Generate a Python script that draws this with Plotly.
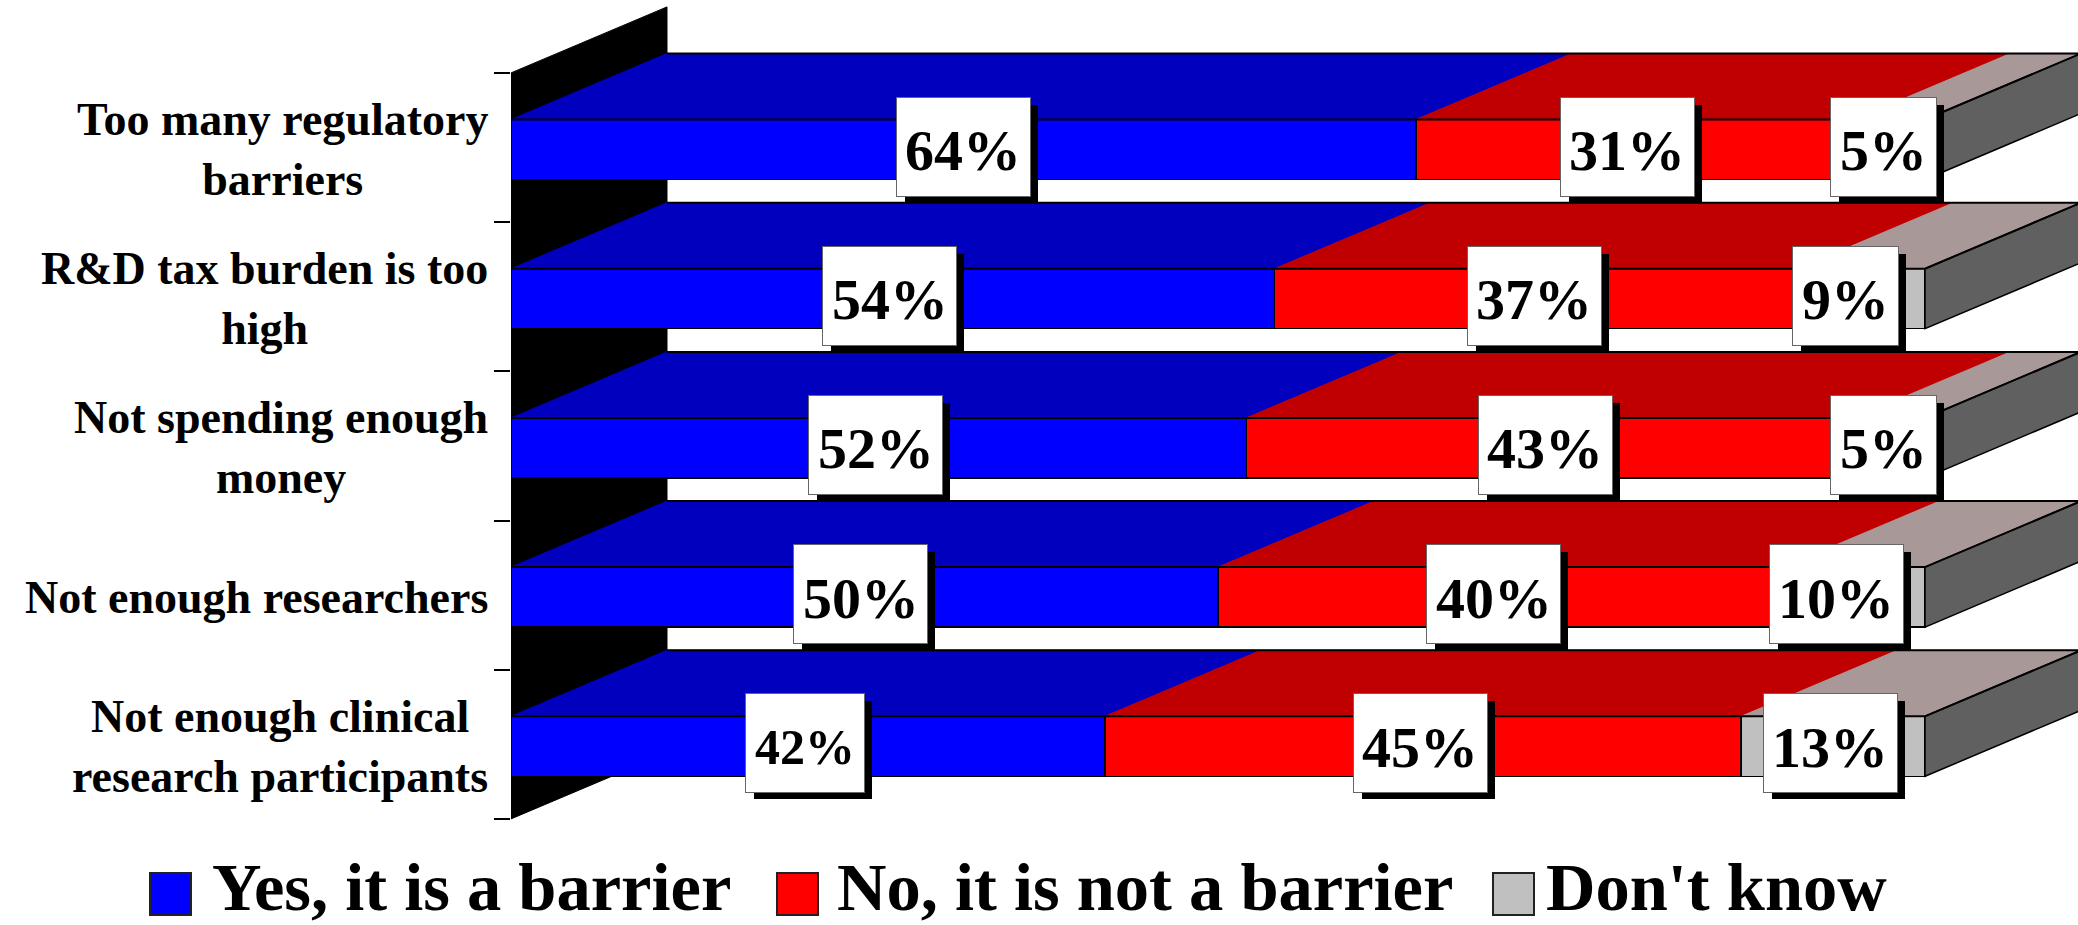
import plotly.graph_objects as go

categories = ["Too many regulatory<br>barriers", "R&D tax burden is too<br>high", "Not spending enough<br>money",
              "Not enough researchers", "Not enough clinical<br>research participants"]
series_names = ["Yes, it is a barrier", "No, it is not a barrier", "Don't know"]
yes_values = [64, 54, 52, 50, 42]
no_values = [31, 37, 43, 40, 45]
dk_values = [5, 9, 5, 10, 13]

# ---- styling / geometry (pixels of the 2078x925 canvas) ----
W, H = 2078, 925
X0_PX, PX_PER_PCT = 511, 14.14
Y0_PX, PX_PER_ROW = 147.5, 149.2
FRONT = ["#0000FF", "#FF0000", "#C0C0C0"]
TOP = ["#0000BE", "#C00000", "#A89898"]
SIDE = "#606060"
DX = 156 / PX_PER_PCT
DY = 66 / PX_PER_ROW
BAR_H = 60 / PX_PER_ROW
BAR_OFF = 2 / PX_PER_ROW
NUDGE = [[0, -8, -6], [-3, -2, -16], [-3, -5, -6], [-4, -7, -18], [-3, -3, -3]]
SERIF = "Liberation Serif"

rows = list(range(len(categories)))
series = [yes_values, no_values, dk_values]
fig = go.Figure()

# front faces
for s, vals in enumerate(series):
    fig.add_trace(go.Bar(y=[r + BAR_OFF for r in rows], x=vals, orientation="h", width=BAR_H, name=series_names[s],
                         marker=dict(color=FRONT[s], line=dict(color="black", width=1.5)), showlegend=False))

# 3-D top and side faces, derived from the data
for r in rows:
    yt = r + BAR_OFF - BAR_H / 2
    yb = r + BAR_OFF + BAR_H / 2
    start = 0
    for s, vals in enumerate(series):
        end = start + vals[r]
        fig.add_trace(go.Scatter(x=[start, end, end + DX, start + DX, start],
                                 y=[yt, yt, yt - DY, yt - DY, yt], mode="lines", fill="toself",
                                 fillcolor=TOP[s], line=dict(color=TOP[s], width=1), showlegend=False, hoverinfo="skip"))
        start = end
    fig.add_trace(go.Scatter(x=[start, start + DX, start + DX, start, start],
                             y=[yt, yt - DY, yb - DY, yb, yt], mode="lines", fill="toself",
                             fillcolor=SIDE, line=dict(color="black", width=1.5), showlegend=False, hoverinfo="skip"))
    # dark outline of the top face: back edge, right diagonal, front edge
    fig.add_trace(go.Scatter(x=[DX, start + DX, start, 0], y=[yt - DY, yt - DY, yt, yt], mode="lines",
                             line=dict(color="black", width=2), showlegend=False, hoverinfo="skip"))

x_max = (W - X0_PX) / PX_PER_PCT
y_top = -Y0_PX / PX_PER_ROW
y_bot = (H - Y0_PX) / PX_PER_ROW
edge_low = rows[-1] + 0.5
edge_high = rows[0] - 0.5

shapes = [dict(type="path", layer="below", xref="x", yref="y", fillcolor="black", line=dict(color="black", width=1),
               path=f"M 0 {edge_high} L {DX} {edge_high - DY} L {DX} {edge_low - DY} L 0 {edge_low} Z")]
annotations = []


def px_x(p):
    return p / W


def px_y(p):
    return 1 - p / H


# category labels
for r in rows:
    annotations.append(dict(x=490 / W, xref="paper", y=r + 2 / PX_PER_ROW, yref="y", text=f"<b>{categories[r]}</b>",
                            showarrow=False, xanchor="right", yanchor="middle", align="center",
                            font=dict(family=SERIF, size=46, color="black")))

# value labels
for r in rows:
    start = 0
    for s, vals in enumerate(series):
        v = vals[r]
        mid = start + v / 2
        start += v
        fs = 50 if v == 42 else 58
        w = 118 if v == 42 else (133 if v >= 10 else 105)
        common = dict(x=mid, y=r, xref="x", yref="y", showarrow=False, xanchor="center", yanchor="middle")
        annotations.append(dict(common, text=" ", xshift=NUDGE[r][s] + 8, yshift=-6, width=w, height=98, borderpad=0,
                                bgcolor="black", bordercolor="black", borderwidth=0, font=dict(size=10)))
        annotations.append(dict(common, text=" ", xshift=NUDGE[r][s], yshift=1, width=w, height=98, borderpad=0,
                                bgcolor="white", bordercolor="#666666", borderwidth=1, font=dict(size=10)))
        annotations.append(dict(common, text=f"<b>{v}%</b>", xshift=NUDGE[r][s], yshift=-3,
                                font=dict(family=SERIF, size=fs, color="black")))

# legend
swatch_x = [150, 777, 1493]
text_x = [210, 835, 1544]
for s in range(3):
    shapes.append(dict(type="rect", xref="paper", yref="paper", x0=px_x(swatch_x[s]), x1=px_x(swatch_x[s] + 41),
                       y0=px_y(915), y1=px_y(873), fillcolor=FRONT[s], line=dict(color="#222222", width=2)))
    annotations.append(dict(x=px_x(text_x[s]), y=px_y(887), xref="paper", yref="paper", text=f"<b>{series_names[s]}</b>",
                            showarrow=False, xanchor="left", yanchor="middle",
                            font=dict(family=SERIF, size=68.5, color="black")))

fig.update_layout(
    width=W, height=H, margin=dict(l=0, r=0, t=0, b=0), barmode="stack", paper_bgcolor="white", plot_bgcolor="white",
    showlegend=False, shapes=shapes, annotations=annotations,
    xaxis=dict(domain=[X0_PX / W, 1], range=[0, x_max], showgrid=False, zeroline=False, showticklabels=False, ticks="",
               showline=False),
    yaxis=dict(range=[y_bot, y_top], showgrid=False, zeroline=False, showticklabels=False, ticks="outside",
               tickmode="array", tickvals=[r - 0.5 for r in rows] + [edge_low], ticklen=16, tickwidth=2, tickcolor="black",
               showline=False),
)
fig.write_html("out.html", config=dict(displayModeBar=False),
               post_script="document.body.style.margin='0';")
